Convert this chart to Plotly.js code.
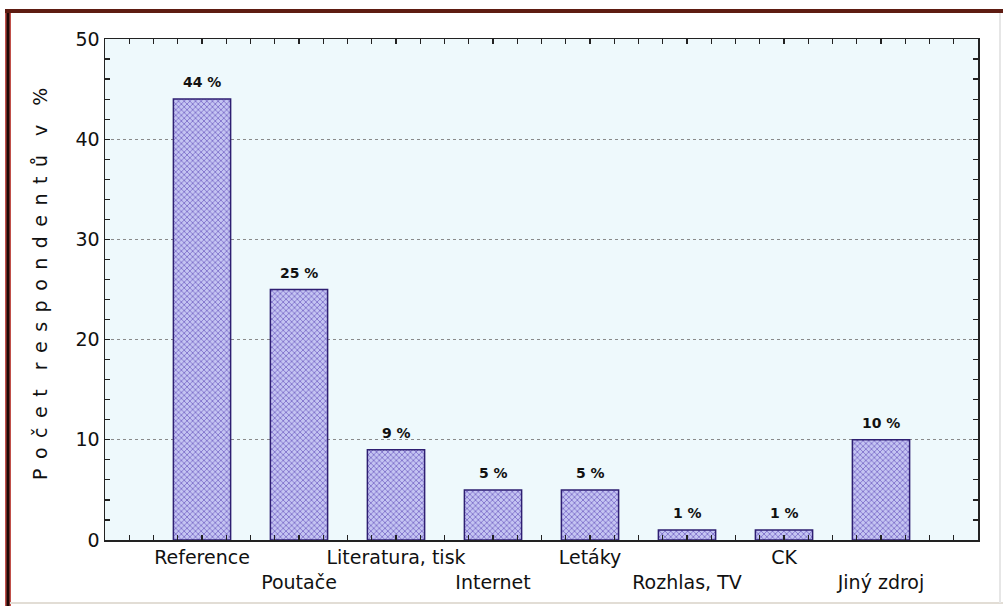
<!DOCTYPE html>
<html>
<head>
<meta charset="utf-8">
<script src="https://cdn.plot.ly/plotly-3.0.1.min.js"></script>
<style>html,body{margin:0;padding:0;background:#fff;}#chart{width:1003px;height:606px;}</style>
</head>
<body>
<div id="chart"></div>
<script>
var categories = ["Reference", "Poutače", "Literatura, tisk", "Internet", "Letáky", "Rozhlas, TV", "CK", "Jiný zdroj"];
var values = [44, 25, 9, 5, 5, 1, 1, 10];
var valueLabels = ["44 %", "25 %", "9 %", "5 %", "5 %", "1 %", "1 %", "10 %"];
var yTitleWords = ["Počet", "respondentů", "v", "%"];

var positions = categories.map(function(c, i){ return i; });
var tickText = categories.map(function(c, i){ return (i % 2 === 1 ? "<br>" : "") + c; });

var EN = "\u2002";
var yTitle = yTitleWords.map(function(w){ return w.split("").join(EN); }).join(EN + EN);

var W = 873, H = 501, L = 105, T = 39;
function px(x){ return (x - L) / W; }
function py(y){ return (T + H - y) / H; }

var trace = {
  type: "bar",
  x: positions,
  y: values,
  width: 0.59,
  marker: {
    color: "#c2c2f0",
    line: {color: "#2e1f72", width: 1.5},
    pattern: {shape: "x", bgcolor: "#c4c4f2", fgcolor: "#7565c4", size: 4, solidity: 0.35, fillmode: "replace"}
  },
  hoverinfo: "skip"
};

var annotations = positions.map(function(p, i){
  return {x: p, y: values[i], xref: "x", yref: "y", text: "<b>" + valueLabels[i] + "</b>", showarrow: false,
    yanchor: "bottom", yshift: 7, font: {family: "DejaVu Sans", size: 14, color: "#111"}};
});
annotations.push({
  xref: "paper", yref: "paper", x: px(40), y: py(284), text: yTitle, showarrow: false,
  textangle: -90, xanchor: "center", yanchor: "middle",
  font: {family: "DejaVu Sans", size: 19, color: "#111"}
});

var layout = {
  width: 1003, height: 606,
  margin: {l: L, r: 1003 - L - W, t: T, b: 606 - T - H},
  paper_bgcolor: "#ffffff",
  plot_bgcolor: "#eef9fc",
  showlegend: false,
  xaxis: {
    range: [-1, 8], tickmode: "array", tickvals: positions, ticktext: tickText, tickangle: 0,
    ticks: "inside", ticklen: 5, tickcolor: "#222", tickwidth: 1.2,
    minor: {tickmode: "linear", tick0: 0, dtick: 0.25, ticks: "inside", ticklen: 5, tickcolor: "#222", showgrid: false},
    showline: true, linecolor: "#222", linewidth: 1.5, mirror: "allticks",
    showgrid: false, zeroline: false,
    tickfont: {family: "DejaVu Sans", size: 19, color: "#111"}
  },
  yaxis: {
    range: [0, 50], tickmode: "linear", tick0: 0, dtick: 10,
    ticks: "inside", ticklen: 5, tickcolor: "#222", tickwidth: 1.2,
    minor: {tickmode: "linear", tick0: 0, dtick: 2, ticks: "inside", ticklen: 5, tickcolor: "#222", showgrid: false},
    showline: true, linecolor: "#222", linewidth: 1.5, mirror: "allticks",
    showgrid: true, gridcolor: "#8a8a8a", griddash: "dot", gridwidth: 1,
    zeroline: false,
    tickfont: {family: "DejaVu Sans", size: 19, color: "#111"}
  },
  annotations: annotations,
  shapes: [
    {type: "line", xref: "paper", yref: "paper", x0: px(8), x1: px(8), y0: py(10), y1: py(606), line: {color: "#c0504a", width: 6}},
    {type: "line", xref: "paper", yref: "paper", x0: px(8), x1: px(8), y0: py(10), y1: py(606), line: {color: "#1e0806", width: 3}},
    {type: "line", xref: "paper", yref: "paper", x0: px(5), x1: px(1003), y0: py(11), y1: py(11), line: {color: "#5e1c12", width: 4}},
    {type: "line", xref: "paper", yref: "paper", x0: px(10), x1: px(1003), y0: py(603), y1: py(603), line: {color: "#e2ddd5", width: 2}},
    {type: "line", xref: "paper", yref: "paper", x0: px(1000), x1: px(1000), y0: py(13), y1: py(603), line: {color: "#e6e6e6", width: 2}}
  ]
};

Plotly.newPlot("chart", [trace], layout, {staticPlot: true, displayModeBar: false});
</script>
</body>
</html>
